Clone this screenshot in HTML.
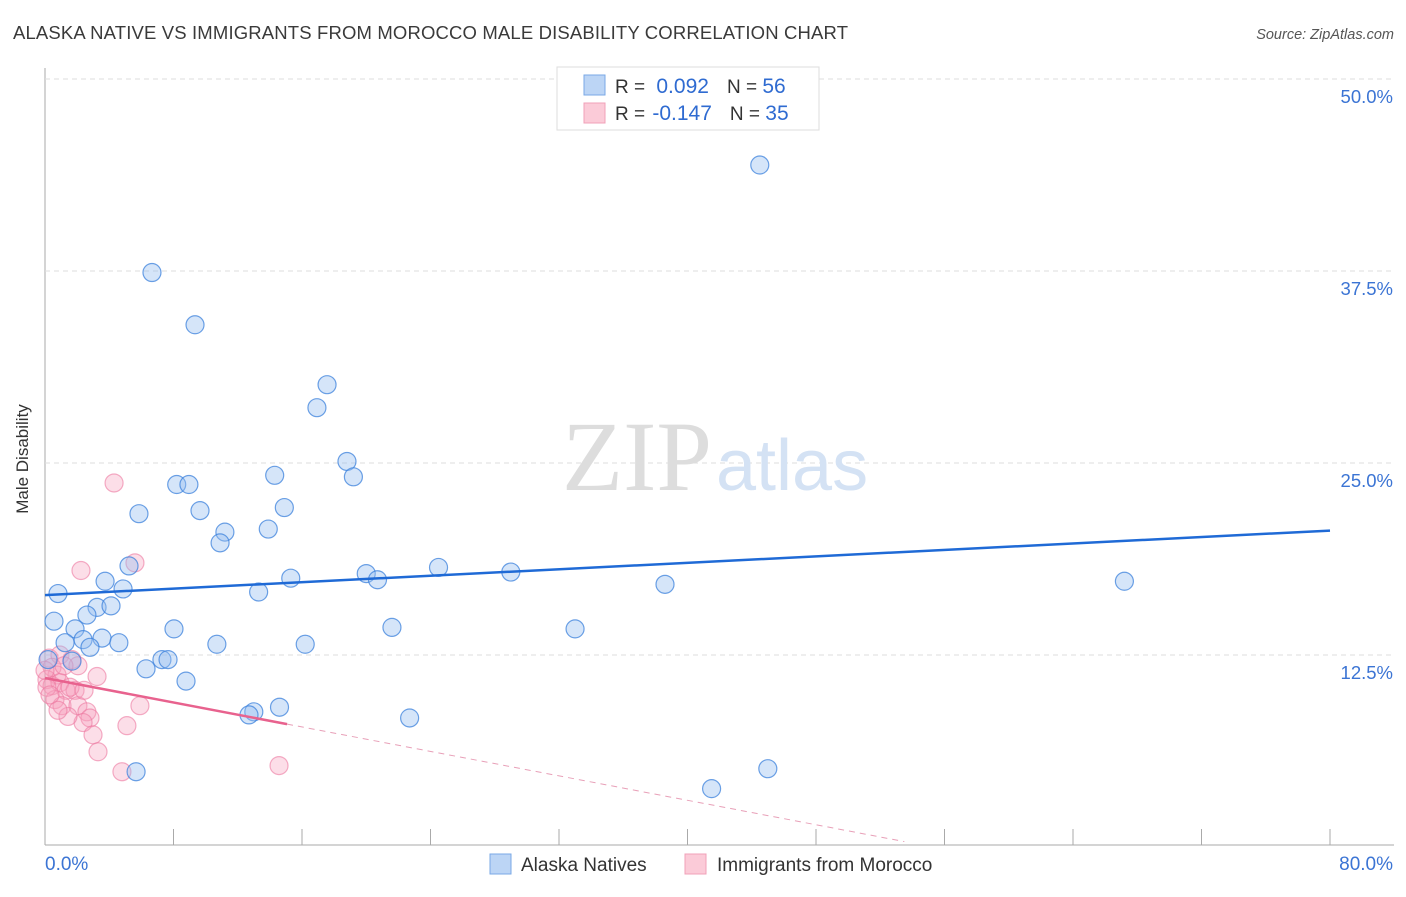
<!DOCTYPE html>
<html><head><meta charset="utf-8"><style>
body{margin:0;background:#fff;font-family:"Liberation Sans",sans-serif;}
svg text{font-family:"Liberation Sans",sans-serif;}
</style></head><body>
<svg id="c" width="1406" height="892" xmlns="http://www.w3.org/2000/svg">
<text x="13" y="39" font-size="18.5" fill="#3a3a3a" textLength="835">ALASKA NATIVE VS IMMIGRANTS FROM MOROCCO MALE DISABILITY CORRELATION CHART</text>
<text x="1394" y="39" font-size="14.5" fill="#555" font-style="italic" text-anchor="end">Source: ZipAtlas.com</text>
<text x="24" y="455" font-size="17" fill="#333" text-anchor="middle" transform="rotate(-90 28 455)">Male Disability</text>
<g id="grid"></g>
<text x="712" y="490" font-size="100" fill="#ddd" text-anchor="end" style="font-family:'Liberation Serif',serif">ZIP</text>
<text x="716" y="490" font-size="72" fill="#d4e2f4">atlas</text>
<g id="pts"></g>
<g id="lines"></g>
<g>
<rect x="557" y="67" width="262" height="63" fill="#fff" stroke="#ddd"/>
<rect x="584" y="75" width="21" height="20" fill="#bcd5f5" stroke="#7aa8e6"/>
<rect x="584" y="103" width="21" height="20" fill="#fbcbd8" stroke="#f0a0b8"/>
<text x="615" y="93" font-size="19" fill="#333">R = <tspan fill="#2f6bd1" dx="6" font-size="21">0.092</tspan><tspan dx="18" fill="#333">N = </tspan><tspan fill="#2f6bd1" font-size="21">56</tspan></text>
<text x="615" y="120" font-size="19" fill="#333">R = <tspan fill="#2f6bd1" dx="2" font-size="21">-0.147</tspan><tspan dx="18" fill="#333">N = </tspan><tspan fill="#2f6bd1" font-size="21">35</tspan></text>
</g>
<g>
<rect x="490" y="854" width="21" height="20" fill="#bcd5f5" stroke="#7aa8e6"/>
<text x="521" y="871" font-size="19" fill="#333">Alaska Natives</text>
<rect x="685" y="854" width="21" height="20" fill="#fbcbd8" stroke="#f0a0b8"/>
<text x="717" y="871" font-size="19" fill="#333">Immigrants from Morocco</text>
</g>
</svg>
<script>
const xTicks=[0,8,16,24,32,40,48,56,64,72,80];
const yTicks=[12.5,25,37.5,50];
const yTickLabels=["12.5%","25.0%","37.5%","50.0%"];
const xEndLabels=["0.0%","80.0%"];
const blueX=[44.5,6.66,9.34,17.56,16.93,18.8,19.2,14.3,8.2,8.96,5.85,9.65,14.9,11.2,10.9,13.9,5.23,24.5,20.0,20.7,29.0,15.3,3.74,38.6,67.2,13.3,4.86,0.81,3.24,4.11,2.61,0.56,21.6,33.0,1.87,8.03,2.37,3.55,1.25,4.6,10.7,16.2,2.8,0.19,1.68,7.28,7.66,6.29,8.78,14.6,13.0,12.7,22.7,5.67,45.0,41.5];
const blueY=[44.4,37.4,34.0,30.1,28.6,25.1,24.1,24.2,23.6,23.6,21.7,21.9,22.1,20.5,19.8,20.7,18.3,18.2,17.8,17.4,17.9,17.5,17.3,17.1,17.3,16.6,16.8,16.5,15.6,15.7,15.1,14.7,14.3,14.2,14.2,14.2,13.5,13.6,13.3,13.3,13.2,13.2,13.0,12.2,12.1,12.2,12.2,11.6,10.8,9.1,8.8,8.6,8.4,4.9,5.1,3.8];
const pinkX=[4.30,2.24,5.60,0.25,0.93,1.68,2.05,3.24,0.44,0.75,0.12,0.44,0.93,1.31,1.87,0.62,1.06,2.05,2.61,2.8,2.37,1.43,5.91,5.1,2.99,3.30,4.79,14.57,0.12,0.31,0.81,0,1.18,1.56,2.43];
const pinkY=[23.7,18.0,18.5,12.3,12.5,12.2,11.8,11.1,11.7,11.2,10.9,10.5,10.7,10.2,10.2,9.6,9.2,9.2,8.8,8.4,8.1,8.5,9.2,7.9,7.3,6.2,4.9,5.3,10.4,9.9,8.9,11.5,11.8,10.4,10.2];
const blueTrend=[16.4,20.6];
const pinkTrend=[11.0,-0.199];
const pinkSolidEnd=15.07, pinkDashEnd=53.5;

const NS="http://www.w3.org/2000/svg";
const X=v=>45+v/80*1285, Y=v=>847-v/12.5*192;
function mk(t,a,p){const e=document.createElementNS(NS,t);for(const k in a)e.setAttribute(k,a[k]);p.appendChild(e);return e;}
const g=document.getElementById('grid');
let ax=mk('line',{x1:45,y1:68,x2:45,y2:845,stroke:'#aaa','stroke-width':1},g);


let bx=mk('line',{x1:45,y1:845,x2:1394,y2:845,stroke:'#aaa','stroke-width':1},g);


yTicks.forEach((t,i)=>{
 const l=mk('line',{x1:45,y1:Y(t),x2:1394,y2:Y(t),stroke:'#ddd','stroke-dasharray':'5,4'},g);
 
 
 const tx=mk('text',{x:1393,y:Y(t)+24,'font-size':18.5,fill:'#3b74d4','text-anchor':'end'},g);
 tx.textContent=yTickLabels[i];
 
 
});
xTicks.forEach(t=>{
 const l=mk('line',{x1:X(t),y1:829,x2:X(t),y2:845,stroke:'#aaa'},g);
 
 
});
[[0,'start',45],[1,'end',1393]].forEach(([i,a,x])=>{
 const tx=mk('text',{x:x,y:870,'font-size':19,fill:'#3b74d4','text-anchor':a},g);
 tx.textContent=xEndLabels[i];
 
 
});
const P=document.getElementById('pts');
pinkX.forEach((v,i)=>{
 const c=mk('circle',{cx:X(v),cy:Y(pinkY[i]),r:9,fill:'rgba(246,160,188,0.35)',stroke:'rgba(236,120,160,0.6)','stroke-width':1.2},P);
 
 
});
blueX.forEach((v,i)=>{
 const c=mk('circle',{cx:X(v),cy:Y(blueY[i]),r:9,fill:'rgba(150,190,240,0.4)',stroke:'rgba(60,130,220,0.75)','stroke-width':1.2},P);
 
 
});
const L=document.getElementById('lines');
let bl=mk('line',{x1:X(0),y1:Y(blueTrend[0]),x2:X(80),y2:Y(blueTrend[1]),stroke:'#1f6ad6','stroke-width':2.5},L);


const pf=x=>pinkTrend[0]+pinkTrend[1]*x;
let pl=mk('line',{x1:X(0),y1:Y(pf(0)),x2:X(pinkSolidEnd),y2:Y(pf(pinkSolidEnd)),stroke:'#e8628e','stroke-width':2.5},L);


let pd=mk('line',{x1:X(pinkSolidEnd),y1:Y(pf(pinkSolidEnd)),x2:X(pinkDashEnd),y2:Y(pf(pinkDashEnd)),stroke:'#e8a0b8','stroke-width':1,'stroke-dasharray':'6,5'},L);


</script>
</body></html>
